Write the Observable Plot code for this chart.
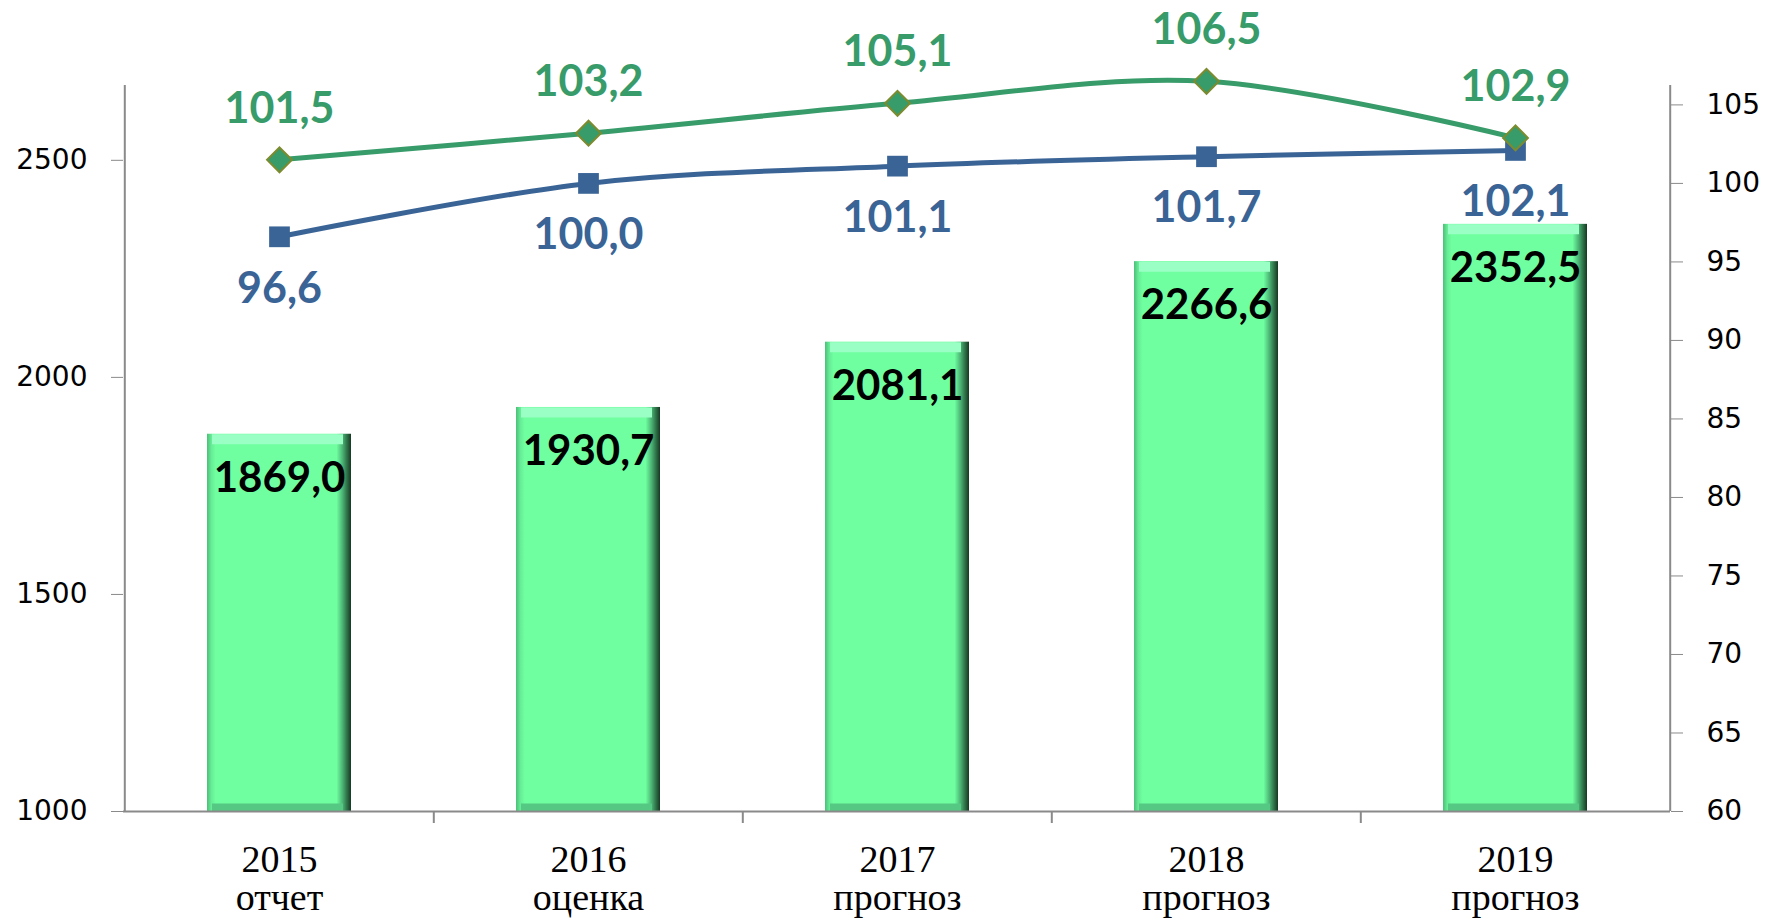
<!DOCTYPE html>
<html>
<head>
<meta charset="utf-8">
<script src="https://cdn.jsdelivr.net/npm/d3@7"></script>
<script src="https://cdn.jsdelivr.net/npm/@observablehq/plot@0.6"></script>
<style>
  html, body { margin: 0; padding: 0; background: #ffffff; }
  #chart { width: 1769px; height: 923px; }
</style>
</head>
<body>
<div id="chart"></div>
<script>
// ---- data ----
const years = ["2015", "2016", "2017", "2018", "2019"];
const subLabels = ["отчет", "оценка", "прогноз", "прогноз", "прогноз"];
const volume = [1869.0, 1930.7, 2081.1, 2266.6, 2352.5];
const indexGreen = [101.5, 103.2, 105.1, 106.5, 102.9];
const indexBlue = [96.6, 100.0, 101.1, 101.7, 102.1];
const leftTicks = [1000, 1500, 2000, 2500];
const rightTicks = [60, 65, 70, 75, 80, 85, 90, 95, 100, 105];
const leftDomain = [1000, 2700];
const rightDomain = [60, 107];

const data = years.map((y, i) => ({
  year: y, sub: subLabels[i], volume: volume[i], green: indexGreen[i], blue: indexBlue[i]
}));

// map right-axis values onto the left (primary) scale
const toLeft = d3.scaleLinear(rightDomain, leftDomain);
const fmt = v => v.toFixed(1).replace(".", ",");

const W = 1769, H = 923;
const mL = 123, mR = 99, mT = 73, mB = 112;
const step = (W - mL - mR) / years.length;

const GREEN = "#389B6A", BLUE = "#3A6496", AXIS = "#8A8A8A";
const labelFont = "Lato, 'Open Sans', sans-serif";
const first = years[0], last = years[years.length - 1];

const svg = Plot.plot({
  width: W, height: H,
  marginLeft: mL, marginRight: mR, marginTop: mT, marginBottom: mB,
  style: { fontFamily: "'DejaVu Sans', sans-serif", fontSize: "28px", color: "black", background: "white" },
  x: { type: "band", domain: years, paddingInner: 0.535, paddingOuter: 0.2675 },
  y: { domain: leftDomain },
  marks: [
    Plot.barY(data, { x: "year", y1: () => leftDomain[0], y2: "volume", fill: "url(#barGrad)" }),
    Plot.tickY(data, { x: "year", y: "volume", stroke: "#9AFFC4", strokeWidth: 10, dy: 5, insetLeft: 5, insetRight: 8 }),
    Plot.tickY(data, { x: "year", y: () => leftDomain[0], stroke: "#55C883", strokeWidth: 8, dy: -4, insetLeft: 5, insetRight: 8 }),
    // axes lines
    Plot.ruleY([leftDomain[0]], { stroke: AXIS, strokeWidth: 2 }),
    Plot.ruleX([first], { x: d => d, dx: -step / 2, y1: () => leftDomain[0], y2: () => leftDomain[1], insetBottom: -12, stroke: AXIS, strokeWidth: 2 }),
    Plot.ruleX([last], { x: d => d, dx: step / 2, y1: () => leftDomain[0], y2: () => leftDomain[1], insetBottom: -12, stroke: AXIS, strokeWidth: 2 }),
    Plot.ruleX(years.slice(1), { x: d => d, dx: -step / 2, y1: () => leftDomain[0], y2: () => leftDomain[0], insetBottom: -12, stroke: AXIS, strokeWidth: 2 }),
    Plot.axisY(leftTicks, { anchor: "left", tickSize: 12, tickPadding: 24, label: null, stroke: AXIS, fill: "black", fontSize: 28,
      tickFormat: d => String(d) }),
    Plot.axisY(rightTicks.map(v => toLeft(v)), { anchor: "right", tickSize: 12, tickPadding: 24, label: null, stroke: AXIS, fill: "black", fontSize: 28,
      tickFormat: d => String(Math.round(toLeft.invert(d))) }),
    Plot.axisX({ tickSize: 0, tickPadding: 34, label: null, fontSize: 38, fontFamily: "'Liberation Serif', serif", fill: "black",
      tickFormat: d => `${d}\n${subLabels[years.indexOf(d)]}` }),
    // bar labels
    Plot.text(data, { x: "year", y: "volume", text: d => fmt(d.volume), dy: 44, fontSize: 42, fontWeight: "bold", fontFamily: labelFont, fill: "black" }),
    // lines
    Plot.line(data, { x: "year", y: d => toLeft(d.blue), stroke: BLUE, strokeWidth: 5, curve: "cardinal", tension: 0 }),
    Plot.line(data, { x: "year", y: d => toLeft(d.green), stroke: GREEN, strokeWidth: 5, curve: "cardinal", tension: 0 }),
    Plot.dot(data, { x: "year", y: d => toLeft(d.blue), symbol: "square", r: 11.7, fill: BLUE, stroke: "none" }),
    Plot.dot(data, { x: "year", y: d => toLeft(d.green), symbol: "diamond2", r: 11.2, fill: GREEN, stroke: "#7C8B2E", strokeWidth: 2 }),
    Plot.text(data, { x: "year", y: d => toLeft(d.green), text: d => fmt(d.green), dy: -51, fontSize: 43, fontWeight: "bold", fontFamily: labelFont, fill: GREEN }),
    Plot.text(data, { x: "year", y: d => toLeft(d.blue), text: d => fmt(d.blue), dy: 52, fontSize: 43, fontWeight: "bold", fontFamily: labelFont, fill: BLUE })
  ]
});

// gradient for the bevelled bars
const NS = "http://www.w3.org/2000/svg";
const defs = document.createElementNS(NS, "defs");
const grad = document.createElementNS(NS, "linearGradient");
grad.setAttribute("id", "barGrad");
grad.setAttribute("x1", "0"); grad.setAttribute("x2", "1");
grad.setAttribute("y1", "0"); grad.setAttribute("y2", "0");
[["0%", "#4DBE79"], ["3%", "#66EC96"], ["6%", "#6FFFA0"], ["90%", "#6FFFA0"], ["94%", "#4CB575"], ["100%", "#153822"]]
  .forEach(([o, c]) => {
    const s = document.createElementNS(NS, "stop");
    s.setAttribute("offset", o); s.setAttribute("stop-color", c);
    grad.appendChild(s);
  });
defs.appendChild(grad);
svg.insertBefore(defs, svg.firstChild);

document.getElementById("chart").appendChild(svg);
</script>
</body>
</html>
